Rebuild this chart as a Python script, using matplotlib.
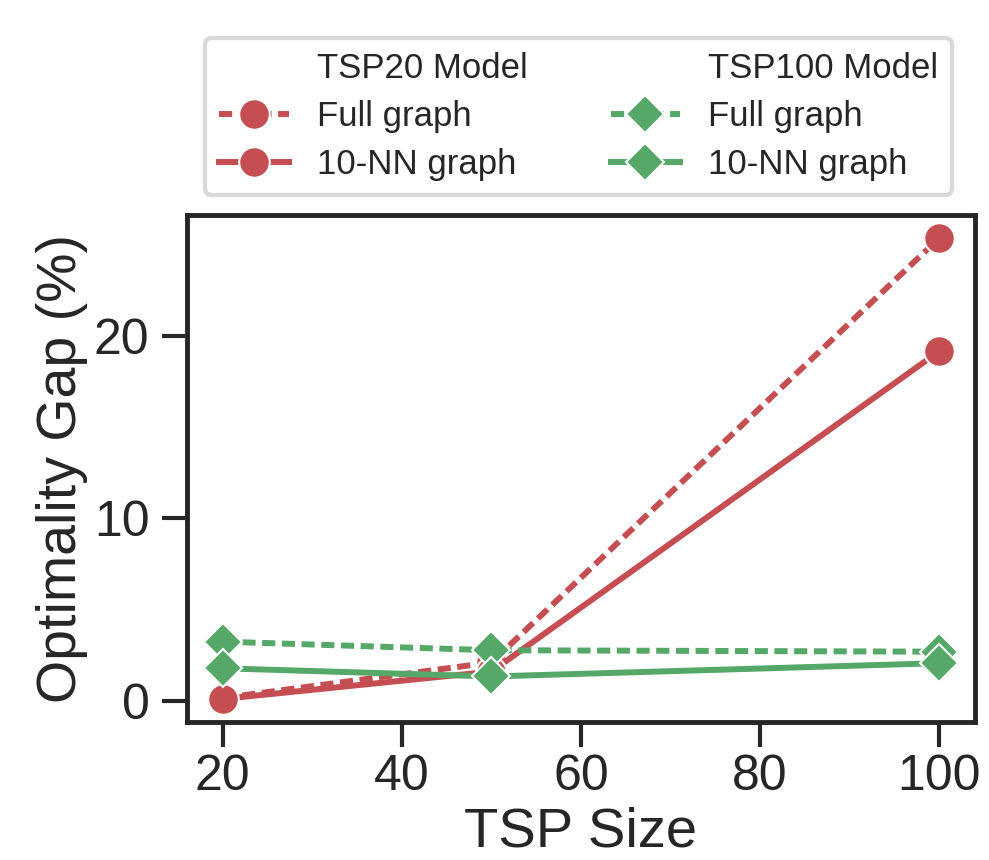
import matplotlib
matplotlib.use("Agg")
import matplotlib.pyplot as plt
from matplotlib.lines import Line2D

# data
tsp_sizes = [20, 50, 100]
tsp20_full = [0.15, 2.1, 25.37]
tsp20_knn = [0.1, 1.6, 19.17]
tsp100_full = [3.24, 2.77, 2.69]
tsp100_knn = [1.78, 1.33, 2.06]

red = "#C44E52"
green = "#55A868"
dark = "#262626"

plt.rcParams["font.family"] = ["Liberation Sans", "DejaVu Sans"]
plt.rcParams["text.color"] = dark
plt.rcParams["axes.labelcolor"] = dark
plt.rcParams["xtick.color"] = dark
plt.rcParams["ytick.color"] = dark

fig = plt.figure(figsize=(9.89, 8.6), dpi=100)
ax = fig.add_axes([0.189, 0.1605, 0.797, 0.5895])

lw = 4.3
dash = (2.2, 1.1)
ms_c = 22
ms_d = 19
mew = 1.5

ax.plot(tsp_sizes, tsp20_full, color=red, ls="--", dashes=dash, lw=lw, marker="o", ms=ms_c,
        mec="white", mew=mew, label="Full graph")
ax.plot(tsp_sizes, tsp20_knn, color=red, ls="-", lw=lw, marker="o", ms=ms_c,
        mec="white", mew=mew, label="10-NN graph")
ax.plot(tsp_sizes, tsp100_full, color=green, ls="--", dashes=dash, lw=lw, marker="D", ms=ms_d,
        mec="white", mew=mew, label="Full graph")
ax.plot(tsp_sizes, tsp100_knn, color=green, ls="-", lw=lw, marker="D", ms=ms_d,
        mec="white", mew=mew, label="10-NN graph")

ax.set_xticks([20, 40, 60, 80, 100])
ax.set_yticks([0, 10, 20])
ax.tick_params(labelsize=36, length=18, width=3)
ax.tick_params(axis="x", pad=5)
ax.tick_params(axis="y", pad=9)
ax.set_xlabel("TSP Size", fontsize=40.5, labelpad=5)
ax.set_ylabel("Optimality Gap (%)", fontsize=40, labelpad=4)
for s in ax.spines.values():
    s.set_linewidth(3.5)
    s.set_color(dark)

blank = Line2D([], [], color="none")
lines = ax.get_lines()
handles = [blank, lines[0], lines[1], blank, lines[2], lines[3]]
labels = ["TSP20 Model", "Full graph", "10-NN graph",
          "TSP100 Model", "Full graph", "10-NN graph"]
leg = ax.legend(handles, labels, ncol=2, loc="lower center", bbox_to_anchor=(0.497, 1.04),
                borderaxespad=0, fontsize=25, labelspacing=0.43, handlelength=2.0,
                handletextpad=0.8, columnspacing=2.4, frameon=True, fancybox=True,
                borderpad=0.4)
leg.get_frame().set_edgecolor("#d0d0d0")
leg.get_frame().set_linewidth(3)

fig.savefig("out.png", dpi=100)
